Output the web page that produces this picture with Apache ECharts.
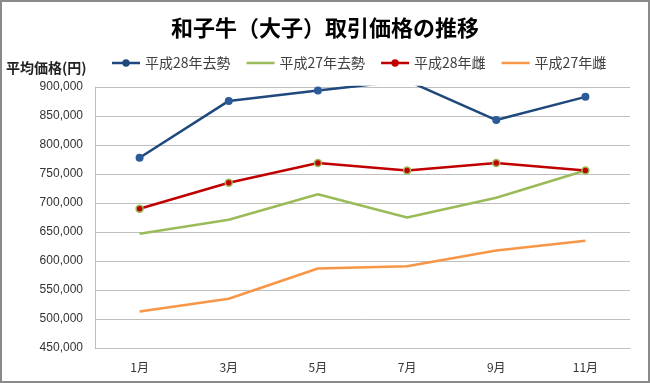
<!DOCTYPE html>
<html>
<head>
<meta charset="utf-8">
<script src="https://cdn.jsdelivr.net/npm/echarts@6/dist/echarts.min.js"></script>
<style>
html,body{margin:0;padding:0;background:#fff;}
#chart{width:650px;height:383px;}
</style>
</head>
<body>
<div id="chart"></div>
<script>
const categories = ['1月', '3月', '5月', '7月', '9月', '11月'];
const seriesNames = ['平成28年去勢', '平成27年去勢', '平成28年雌', '平成27年雌'];
const h28Steer = [778000, 876000, 894000, 911000, 843000, 883000];
const h27Steer = [647000, 671000, 715000, 675000, 709000, 756000];
const h28Heifer = [690000, 735000, 769000, 756000, 769000, 756000];
const h27Heifer = [513000, 535000, 587000, 591000, 618000, 635000];
const yMin = 450000, yMax = 900000, yStep = 50000;

const chart = echarts.init(document.getElementById('chart'));
const font = "'Noto Sans CJK JP', 'Liberation Sans', sans-serif";
// legend icons: line with marker, and plain line (same bounding box 28 x 8)
const iconMarker = 'path://M0,2.75 L28,2.75 L28,5.25 L0,5.25 Z M10.3,4 A3.7,3.7 0 1,1 17.7,4 A3.7,3.7 0 1,1 10.3,4 Z';
const iconLine = 'path://M0,2.75 L28,2.75 L28,5.25 L0,5.25 Z M0,0 L0.01,0 L0,0.01 Z M0,8 L0.01,8 L0,7.99 Z';
chart.setOption({
  animation: false,
  backgroundColor: '#fff',
  textStyle: { fontFamily: font },
  title: {
    text: '和子牛（大子）取引価格の推移',
    left: 'center',
    top: 17,
    padding: 0,
    textStyle: { fontSize: 22, fontWeight: 'bold', color: '#000', fontFamily: font }
  },
  legend: {
    left: 112,
    top: 56,
    width: 600,
    padding: 0,
    itemWidth: 28,
    itemHeight: 8,
    itemGap: 16,
    textStyle: { fontSize: 14, color: '#404040', fontFamily: font },
    data: [
      { name: seriesNames[0], icon: iconMarker, itemStyle: { color: '#1F497D', borderWidth: 0 } },
      { name: seriesNames[1], icon: iconLine, itemStyle: { color: '#9BBB59', borderWidth: 0 } },
      { name: seriesNames[2], icon: iconMarker, itemStyle: { color: '#C00000', borderWidth: 0 } },
      { name: seriesNames[3], icon: iconLine, itemStyle: { color: '#F79646', borderWidth: 0 } }
    ]
  },
  grid: { left: 95, right: 20, top: 87, bottom: 35, containLabel: false },
  xAxis: {
    type: 'category',
    data: categories,
    boundaryGap: true,
    axisLine: { show: true, lineStyle: { color: '#bfbfbf', width: 1 } },
    axisTick: { show: false },
    axisLabel: { fontSize: 12, color: '#333', margin: 13, fontFamily: font }
  },
  yAxis: {
    type: 'value',
    min: yMin, max: yMax, interval: yStep,
    name: '平均価格(円)',
    nameLocation: 'end',
    nameGap: 12,
    nameTextStyle: { fontSize: 14, fontWeight: 'bold', color: '#222', align: 'left', padding: [0, 0, 0, -89], fontFamily: font },
    axisLine: { show: true, lineStyle: { color: '#bfbfbf', width: 1 } },
    axisTick: { show: false },
    splitLine: { show: true, lineStyle: { color: '#bfbfbf', width: 1 } },
    axisLabel: {
      fontSize: 12, color: '#333', margin: 12,
      fontFamily: "'Liberation Sans', sans-serif",
      formatter: v => v.toLocaleString('en-US')
    }
  },
  graphic: [{
    type: 'rect',
    shape: { x: 1, y: 1, width: 648, height: 381 },
    style: { fill: 'none', stroke: '#8a8a8a', lineWidth: 2 },
    silent: true, z: 100
  }],
  series: [
    {
      name: seriesNames[0], type: 'line', data: h28Steer, clip: true,
      symbol: 'circle', symbolSize: 8,
      lineStyle: { color: '#1F497D', width: 2.5 },
      itemStyle: { color: '#2C5B9A', borderWidth: 0 },
      z: 5
    },
    {
      name: seriesNames[1], type: 'line', data: h27Steer, clip: true,
      symbol: 'none',
      lineStyle: { color: '#9BBB59', width: 2.5 },
      itemStyle: { color: '#9BBB59' },
      z: 3
    },
    {
      name: seriesNames[2], type: 'line', data: h28Heifer, clip: true,
      symbol: 'circle', symbolSize: 7,
      lineStyle: { color: '#C00000', width: 2.5 },
      itemStyle: { color: '#C00000', borderColor: '#9BBB59', borderWidth: 1.5 },
      z: 4
    },
    {
      name: seriesNames[3], type: 'line', data: h27Heifer, clip: true,
      symbol: 'none',
      lineStyle: { color: '#F79646', width: 2.5 },
      itemStyle: { color: '#F79646' },
      z: 2
    }
  ]
});
</script>
</body>
</html>
